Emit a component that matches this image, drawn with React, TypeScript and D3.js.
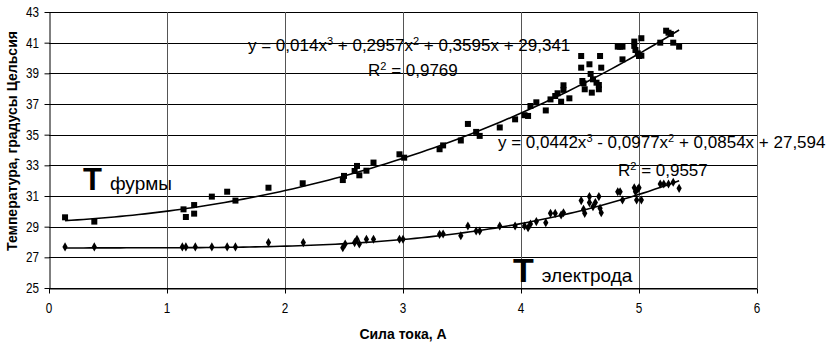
import { useEffect, useRef } from "react";
import * as d3 from "d3";

// Т фурмы (squares)
const furmaX = [
  0.136, 0.384, 1.14, 1.16, 1.23, 1.23, 1.38, 1.51, 1.58, 1.86, 2.15, 2.49, 2.5, 2.59, 2.61, 2.63, 2.69, 2.75,
  2.97, 3.01, 3.31, 3.34, 3.49, 3.55, 3.62, 3.65, 3.82, 3.95, 4.03, 4.06, 4.08, 4.13, 4.21, 4.25, 4.29, 4.31,
  4.34, 4.36, 4.36, 4.41, 4.51, 4.51, 4.52, 4.53, 4.54, 4.58, 4.59, 4.6, 4.61, 4.64, 4.66, 4.66, 4.67, 4.68,
  4.82, 4.84, 4.86, 4.86, 4.96, 4.96, 4.97, 4.99, 5.0, 5.02, 5.02, 5.18, 5.23, 5.25, 5.27, 5.29, 5.34,
];
const furmaY = [
  29.61, 29.33, 30.13, 29.63, 30.41, 29.85, 30.96, 31.28, 30.7, 31.54, 31.83, 32.04, 32.31, 32.63, 32.96, 32.35,
  32.65, 33.18, 33.72, 33.5, 34.05, 34.3, 34.62, 35.7, 35.18, 34.92, 35.47, 36.0, 36.27, 36.22, 36.87, 37.11,
  36.58, 37.3, 37.52, 37.7, 37.15, 37.92, 38.22, 37.37, 40.13, 39.37, 38.5, 38.35, 37.96, 39.59, 38.96, 37.74,
  38.61, 38.39, 38.24, 37.96, 40.13, 39.37, 40.74, 40.74, 40.74, 39.91, 41.07, 40.79, 40.52, 40.3, 40.13, 41.29,
  40.15, 41.0, 41.78, 41.65, 41.57, 41.0, 40.74,
];

// Т электрода (diamonds)
const electrodeX = [
  0.136, 0.384, 1.13, 1.16, 1.24, 1.38, 1.51, 1.58, 1.86, 2.155, 2.49, 2.51, 2.59, 2.61, 2.63, 2.69, 2.75, 2.97,
  3.0, 3.31, 3.34, 3.49, 3.55, 3.62, 3.65, 3.82, 3.95, 4.03, 4.06, 4.08, 4.13, 4.21, 4.25, 4.29, 4.34, 4.36,
  4.51, 4.53, 4.54, 4.58, 4.58, 4.61, 4.63, 4.66, 4.67, 4.68, 4.82, 4.84, 4.86, 4.96, 4.97, 4.98, 4.99, 5.0,
  5.02, 5.18, 5.21, 5.25, 5.29, 5.34,
];
const electrodeY = [
  27.68, 27.68, 27.68, 27.68, 27.68, 27.68, 27.68, 27.68, 27.96, 27.96, 27.63, 27.87, 27.96, 28.18, 27.87, 28.18,
  28.18, 28.18, 28.18, 28.5, 28.52, 28.41, 29.04, 28.72, 28.72, 29.04, 29.04, 29.04, 28.93, 29.17, 29.33, 29.26,
  29.87, 29.87, 29.76, 29.91, 30.7, 30.13, 29.87, 30.96, 30.57, 30.3, 30.57, 30.96, 30.2, 29.91, 31.28, 31.28,
  30.74, 31.54, 31.28, 30.74, 31.44, 31.54, 30.74, 31.78, 31.78, 31.78, 31.9, 31.5,
];

// polynomial trendline coefficients (x^3, x^2, x, 1) as shown on the chart
const furmaCoef = [0.014, 0.2957, 0.3595, 29.341];
const electrodeCoef = [0.0442, -0.0977, 0.0854, 27.594];

const xTicks = [0, 1, 2, 3, 4, 5, 6];
const yTicks = [25, 27, 29, 31, 33, 35, 37, 39, 41, 43];

const FONT = "'Liberation Sans', Arial, sans-serif";

export default function App() {
  const svgRef = useRef<SVGSVGElement>(null);

  useEffect(() => {
    if (!svgRef.current) return;
    const svg = d3.select(svgRef.current);
    svg.selectAll("*").remove();

    const x = d3.scaleLinear().domain([0, 6]).range([49, 757]);
    const y = d3.scaleLinear().domain([25, 43]).range([288, 12]);

    // gridlines
    svg.append("g")
      .selectAll("line")
      .data(yTicks)
      .join("line")
      .attr("x1", x(0))
      .attr("x2", x(6))
      .attr("y1", (d) => Math.round(y(d)) + 0.5)
      .attr("y2", (d) => Math.round(y(d)) + 0.5)
      .attr("stroke", "#000")
      .attr("stroke-width", 1);

    svg.append("g")
      .selectAll("line")
      .data(xTicks.slice(1))
      .join("line")
      .attr("x1", (d) => Math.round(x(d)) + 0.5)
      .attr("x2", (d) => Math.round(x(d)) + 0.5)
      .attr("y1", y(43))
      .attr("y2", y(25))
      .attr("stroke", "#555")
      .attr("stroke-width", 1);

    // axes
    const yAxis = svg.append("g")
      .attr("transform", `translate(${Math.round(x(0)) + 0.5},0)`)
      .call(d3.axisLeft(y).tickValues(yTicks).tickSize(5).tickSizeOuter(0).tickFormat(() => ""));
    yAxis.selectAll("line, path").attr("stroke", "#000");

    const xAxis = svg.append("g")
      .attr("transform", `translate(0,${Math.round(y(25)) + 0.5})`)
      .call(d3.axisBottom(x).tickValues(xTicks).tickSize(5).tickSizeOuter(0).tickFormat(() => ""));
    xAxis.selectAll("line, path").attr("stroke", "#000");

    // tick labels (narrow look)
    svg.append("g")
      .selectAll("text")
      .data(yTicks)
      .join("text")
      .attr("transform", (d) => `translate(39,${y(d) + 5}) scale(0.78,1)`)
      .attr("text-anchor", "end")
      .attr("font-family", FONT)
      .attr("font-size", 15)
      .attr("fill", "#000")
      .text((d) => d);

    svg.append("g")
      .selectAll("text")
      .data(xTicks)
      .join("text")
      .attr("transform", (d) => `translate(${x(d)},${313}) scale(0.78,1)`)
      .attr("text-anchor", "middle")
      .attr("font-family", FONT)
      .attr("font-size", 15)
      .attr("fill", "#000")
      .text((d) => d);

    // axis titles
    svg.append("text")
      .attr("x", 403)
      .attr("y", 339)
      .attr("text-anchor", "middle")
      .attr("font-family", FONT)
      .attr("font-weight", "bold")
      .attr("font-size", 14)
      .text("Сила тока, А");

    svg.append("text")
      .attr("transform", "translate(17,141) rotate(-90)")
      .attr("text-anchor", "middle")
      .attr("font-family", FONT)
      .attr("font-weight", "bold")
      .attr("font-size", 14)
      .text("Температура, градусы Цельсия");

    // trendlines
    const poly = (c: number[]) => (v: number) => ((c[0] * v + c[1]) * v + c[2]) * v + c[3];
    const drawTrend = (xs: number[], coef: number[]) => {
      const [lo, hi] = d3.extent(xs) as [number, number];
      const f = poly(coef);
      const pts = d3.range(0, 101).map((i) => lo + ((hi - lo) * i) / 100);
      svg.append("path")
        .datum(pts)
        .attr("fill", "none")
        .attr("stroke", "#000")
        .attr("stroke-width", 1.6)
        .attr("d", d3.line<number>().x((v) => x(v)).y((v) => y(f(v))));
    };
    drawTrend(furmaX, furmaCoef);
    drawTrend(electrodeX, electrodeCoef);

    // markers
    const sq = d3.symbol().type(d3.symbolSquare).size(36);
    svg.append("g")
      .selectAll("path")
      .data(furmaX.map((v, i) => [v, furmaY[i]]))
      .join("path")
      .attr("transform", (d) => `translate(${x(d[0])},${y(d[1])})`)
      .attr("d", sq)
      .attr("fill", "#000");

    const dm = d3.symbol().type(d3.symbolDiamond).size(24);
    svg.append("g")
      .selectAll("path")
      .data(electrodeX.map((v, i) => [v, electrodeY[i]]))
      .join("path")
      .attr("transform", (d) => `translate(${x(d[0])},${y(d[1])})`)
      .attr("d", dm)
      .attr("fill", "#000");

    // equation labels
    const eq = (
      px: number,
      py: number,
      parts: [string, boolean][]
    ) => {
      const t = svg.append("text")
        .attr("x", px)
        .attr("y", py)
        .attr("font-family", FONT)
        .attr("font-size", 17)
        .attr("fill", "#000");
      parts.forEach(([s, sup]) => {
        t.append("tspan")
          .attr("font-size", sup ? 11 : 17)
          .attr("baseline-shift", sup ? "55%" : "0")
          .text(s);
      });
    };
    eq(248, 51, [["y = 0,014x", false], ["3", true], [" + 0,2957x", false], ["2", true], [" + 0,3595x + 29,341", false]]);
    eq(368, 76, [["R", false], ["2", true], [" = 0,9769", false]]);
    eq(498, 148, [["y = 0,0442x", false], ["3", true], [" - 0,0977x", false], ["2", true], [" + 0,0854x + 27,594", false]]);
    eq(618, 176, [["R", false], ["2", true], [" = 0,9557", false]]);

    // series labels
    const label = (px: number, py: number, big: number, name: string) => {
      const t = svg.append("text")
        .attr("x", px)
        .attr("y", py)
        .attr("font-family", FONT)
        .attr("fill", "#000");
      t.append("tspan").attr("font-weight", "bold").attr("font-size", big).text("T");
      t.append("tspan").attr("font-size", 19).attr("dx", 8).text(name);
    };
    label(83, 190, 31, "фурмы");
    label(513, 282, 34, "электрода");
  }, []);

  return (
    <svg
      ref={svgRef}
      width={827}
      height={345}
      style={{ position: "absolute", left: 0, top: 0, background: "#fff" }}
    />
  );
}
